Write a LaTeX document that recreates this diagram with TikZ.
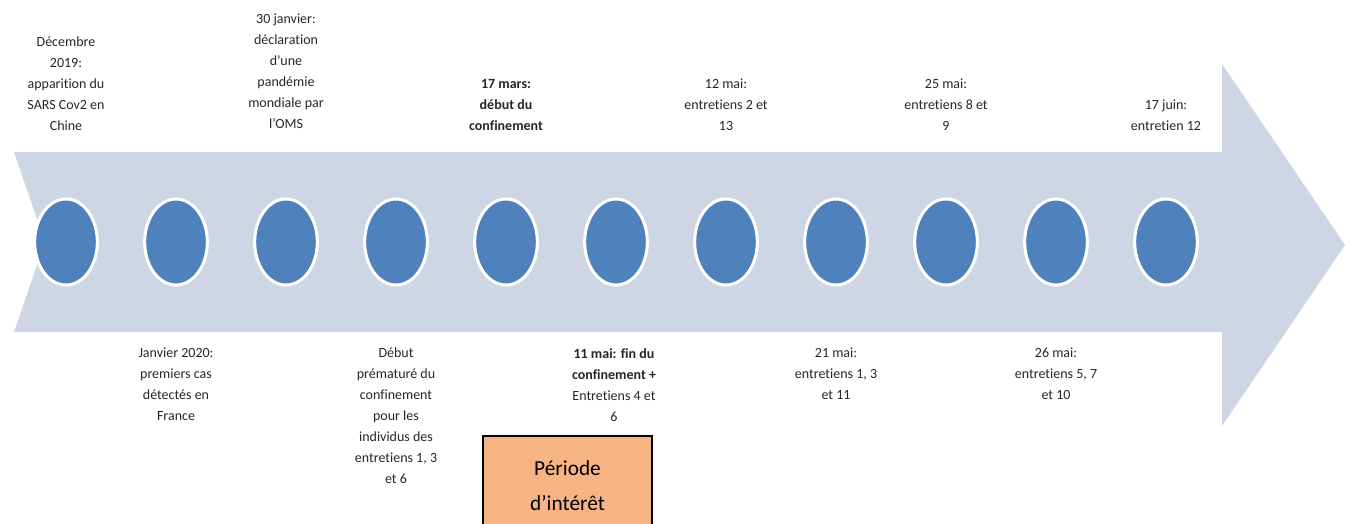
\documentclass[tikz,border=0pt]{standalone}
\usepackage{fontspec}
\setmainfont{Carlito}[Ligatures=CommonOff]
\usetikzlibrary{shapes.geometric}
\definecolor{fleche}{HTML}{CED6E5}
\definecolor{bleu}{HTML}{4F81BD}
\definecolor{saumon}{HTML}{F6B485}

\begin{document}
\begin{tikzpicture}[x=0.75pt,y=-0.75pt,
    point/.style={ellipse,fill=bleu,draw=white,line width=2.25pt,minimum width=47pt,minimum height=64.5pt},
    haut/.style={anchor=south,align=center,inner sep=0pt,text=black!85,font=\fontsize{10.5}{15.75}\selectfont},
    bas/.style={haut,anchor=north}]
    \useasboundingbox (0,0) rectangle (1345,524);

    \fill [fleche] (14,152) -- (1222,152) -- (1222,64) -- (1345,245) -- (1222,426) -- (1222,332) -- (14,332) -- (45,242) -- cycle;

    \foreach \i in {1,...,11}
        \node [point] (p\i) at (110*\i-44,242) {};

    \node [haut] (t1) at (66,131) {Décembre\\2019:\\apparition du\\SARS Cov2 en\\Chine};
    \node [haut] (t3) at (286,129) {30 janvier:\\déclaration\\d'une\\pandémie\\mondiale par\\l'OMS};
    \node [haut] (t5) at (506,131) {\textbf{17 mars:}\\\textbf{début du}\\\textbf{confinement}};
    \node [haut] (t7) at (726,131) {12 mai:\\entretiens 2 et\\13};
    \node [haut] (t9) at (946,131) {25 mai:\\entretiens 8 et\\9};
    \node [haut] (t11) at (1166,131) {17 juin:\\entretien 12};

    \node [bas] (b2) at (176,348) {Janvier 2020:\\premiers cas\\détectés en\\France};
    \node [bas] (b4) at (396,348) {Début\\prématuré du\\confinement\\pour les\\individus des\\entretiens 1, 3\\et 6};
    \node [bas] (b6) at (614,348) {\textbf{11 mai: fin du}\\\textbf{confinement +}\\Entretiens 4 et\\6};
    \node [bas] (b8) at (836,348) {21 mai:\\entretiens 1, 3\\et 11};
    \node [bas] (b10) at (1056,348) {26 mai:\\entretiens 5, 7\\et 10};

    \node [draw=black,line width=1.5pt,fill=saumon,minimum width=126.75pt,minimum height=75pt,align=center,font=\fontsize{16}{26}\selectfont] (periode) at (567.5,486) {Période\\d'intérêt};
\end{tikzpicture}
\end{document}
